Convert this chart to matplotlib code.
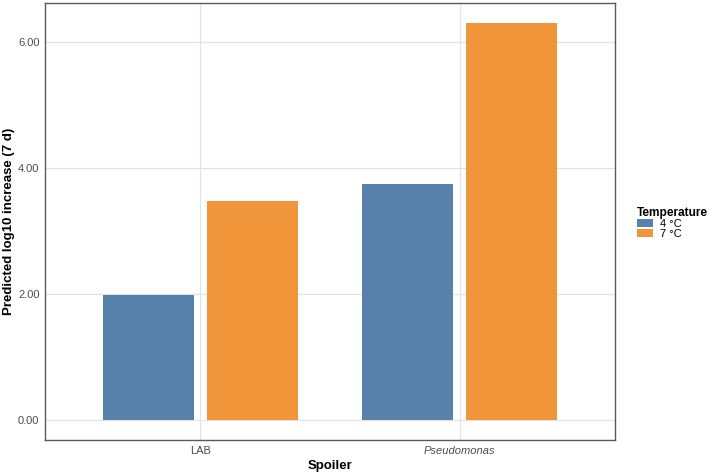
import matplotlib
matplotlib.use("Agg")
import matplotlib.pyplot as plt
from matplotlib.patches import Patch
import numpy as np

plt.rcParams['font.family'] = ['Liberation Sans', 'DejaVu Sans']

spoilers = ["LAB", "Pseudomonas"]
temperatures = ["4 °C", "7 °C"]
values_4C = [1.98, 3.75]
values_7C = [3.47, 6.30]
colors = ["#5780AA", "#F0953A"]
yticks = [0, 2, 4, 6]

fig = plt.figure(figsize=(7.09, 4.72), dpi=100)
ax = fig.add_axes([45/709, 32/472, 570/709, 437/472])

x = np.arange(1, len(spoilers) + 1)
bw = 0.35
ax.bar(x - 0.2, values_4C, width=bw, color=colors[0], zorder=3)
ax.bar(x + 0.2, values_7C, width=bw, color=colors[1], zorder=3)

ymax = max(values_4C + values_7C)
ax.set_ylim(-0.05 * ymax, ymax * 1.05)
ax.set_xlim(0.4, 2.6)

ax.set_yticks(yticks)
ax.set_yticklabels([f"{v:.2f}" for v in yticks])
ax.set_xticks(x)
ax.set_xticklabels(spoilers)
ax.get_xticklabels()[1].set_style('italic')

ax.tick_params(length=0, labelsize=8, labelcolor='#4D4D4D', pad=4)
ax.grid(True, color='#E3E3E3', linewidth=0.9, zorder=0)
ax.set_axisbelow(True)
for s in ax.spines.values():
    s.set_color('#5A5A5A')
    s.set_linewidth(1.0)

ax.set_xlabel("Spoiler", fontsize=9.5, fontweight='bold', labelpad=3)
ax.set_ylabel("Predicted log10 increase (7 d)", fontsize=9.5, fontweight='bold', labelpad=2)

handles = [Patch(facecolor=c, edgecolor='none') for c in colors]
leg = fig.legend(handles, temperatures, title="Temperature",
                 loc='center left', bbox_to_anchor=(628/709, 1 - 223/472),
                 frameon=False, fontsize=8, title_fontsize=8.6,
                 handlelength=1.45, handleheight=0.65, handletextpad=0.6,
                 labelspacing=0.0, borderpad=0.3)
leg.get_title().set_fontweight('bold')
leg._legend_box.align = "left"

fig.savefig("out.png", dpi=100)
